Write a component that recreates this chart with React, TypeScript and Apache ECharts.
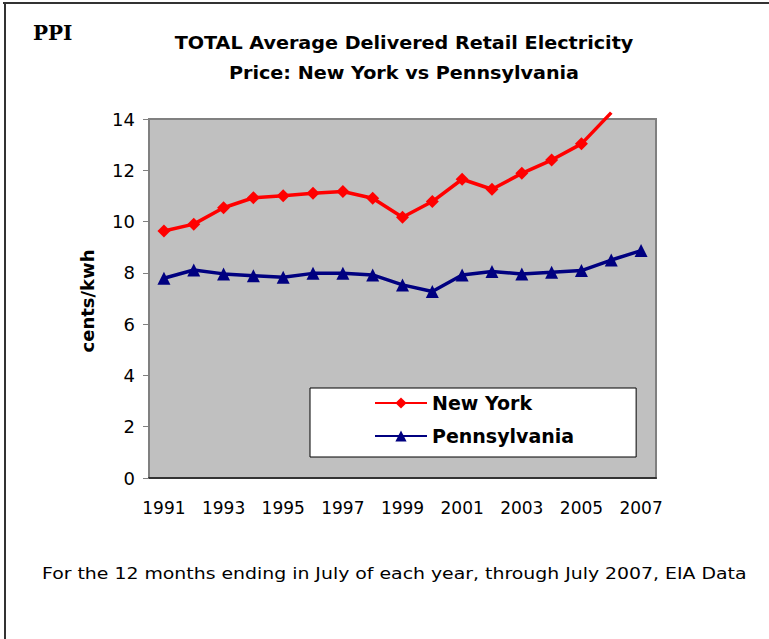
import React, { useEffect, useRef } from "react";
import * as echarts from "echarts";

const years = ["1991","1992","1993","1994","1995","1996","1997","1998","1999","2000","2001","2002","2003","2004","2005","2006","2007"];
const newYork = [9.63, 9.9, 10.54, 10.93, 11.01, 11.1, 11.17, 10.91, 10.17, 10.78, 11.65, 11.26, 11.88, 12.4, 13.03, 14.25, null];
const pennsylvania = [7.79, 8.11, 7.96, 7.89, 7.83, 7.98, 7.98, 7.92, 7.53, 7.27, 7.92, 8.05, 7.96, 8.02, 8.09, 8.5, 8.87];
const yMin = 0;
const yMax = 14;
const yInterval = 2;

const SANS = "'DejaVu Sans', sans-serif";

export default function App() {
  const ref = useRef<HTMLDivElement>(null);
  useEffect(() => {
    if (!ref.current) return;
    const chart = echarts.init(ref.current, null, { renderer: "svg" });
    const nyData = newYork.map((v) =>
      v !== null && v > yMax ? { value: v, symbol: "none" } : v
    );
    chart.setOption({
      animation: false,
      backgroundColor: "#ffffff",
      grid: {
        left: 149,
        right: 113,
        top: 119,
        bottom: 161,
        show: true,
        backgroundColor: "#c0c0c0",
        borderColor: "#808080",
        borderWidth: 2,
      },
      xAxis: {
        type: "category",
        data: years,
        boundaryGap: true,
        axisLine: { show: true, lineStyle: { color: "#333333", width: 2 } },
        axisTick: { show: false },
        axisLabel: {
          interval: 1,
          color: "#000",
          fontFamily: SANS,
          fontSize: 17,
          margin: 21,
        },
        splitLine: { show: false },
      },
      yAxis: {
        type: "value",
        min: yMin,
        max: yMax,
        interval: yInterval,
        axisLine: { show: true, lineStyle: { color: "#808080", width: 2 } },
        axisTick: { show: true, length: 6, lineStyle: { color: "#808080", width: 1 } },
        axisLabel: { color: "#000", fontFamily: SANS, fontSize: 18, margin: 14 },
        splitLine: { show: false },
      },
      legend: {
        orient: "vertical",
        left: 310,
        top: 388,
        padding: [5, 62, 11, 64],
        itemGap: 13,
        itemWidth: 52,
        itemHeight: 14,
        backgroundColor: "#ffffff",
        borderColor: "#000000",
        borderWidth: 1,
        textStyle: {
          color: "#000",
          fontFamily: SANS,
          fontWeight: "bold",
          fontSize: 19,
          lineHeight: 20,
        },
        data: ["New York", "Pennsylvania"],
      },
      series: [
        {
          name: "New York",
          type: "line",
          data: nyData,
          clip: false,
          symbol: "diamond",
          symbolSize: 13,
          connectNulls: false,
          lineStyle: { color: "#ff0000", width: 3.5 },
          itemStyle: { color: "#ff0000" },
          z: 3,
        },
        {
          name: "Pennsylvania",
          type: "line",
          data: pennsylvania,
          symbol: "triangle",
          symbolSize: 13,
          lineStyle: { color: "#000080", width: 3.5 },
          itemStyle: { color: "#000080" },
          z: 3,
        },
      ],
      graphic: [
        { type: "line", shape: { x1: 3, y1: 3, x2: 769, y2: 3 }, style: { stroke: "#333333", lineWidth: 2 } },
        { type: "line", shape: { x1: 5, y1: 3, x2: 5, y2: 639 }, style: { stroke: "#333333", lineWidth: 2 } },
        {
          type: "text",
          x: 33,
          y: 33,
          style: {
            text: "PPI",
            fill: "#000",
            font: "bold 20px 'DejaVu Serif', serif",
            textAlign: "left",
            textVerticalAlign: "middle",
          },
        },
        {
          type: "text",
          x: 404,
          y: 43,
          scaleX: 1.065,
          style: {
            text: "TOTAL Average Delivered Retail Electricity",
            fill: "#000",
            font: "bold 18px 'DejaVu Sans', sans-serif",
            textAlign: "center",
            textVerticalAlign: "middle",
          },
        },
        {
          type: "text",
          x: 404,
          y: 73,
          scaleX: 1.065,
          style: {
            text: "Price: New York vs Pennsylvania",
            fill: "#000",
            font: "bold 18px 'DejaVu Sans', sans-serif",
            textAlign: "center",
            textVerticalAlign: "middle",
          },
        },
        {
          type: "text",
          x: 87,
          y: 301,
          rotation: Math.PI / 2,
          style: {
            text: "cents/kwh",
            fill: "#000",
            font: "bold 18px 'DejaVu Sans', sans-serif",
            textAlign: "center",
            textVerticalAlign: "middle",
          },
        },
        {
          type: "text",
          x: 42,
          y: 574,
          scaleX: 1.18,
          style: {
            text: "For the 12 months ending in July of each year, through July 2007, EIA Data",
            fill: "#000",
            font: "16px 'DejaVu Sans', sans-serif",
            textAlign: "left",
            textVerticalAlign: "middle",
          },
        },
      ],
    });
    return () => chart.dispose();
  }, []);
  return (
    <div
      ref={ref}
      style={{ position: "fixed", left: 0, top: 0, width: 769, height: 639 }}
    />
  );
}
